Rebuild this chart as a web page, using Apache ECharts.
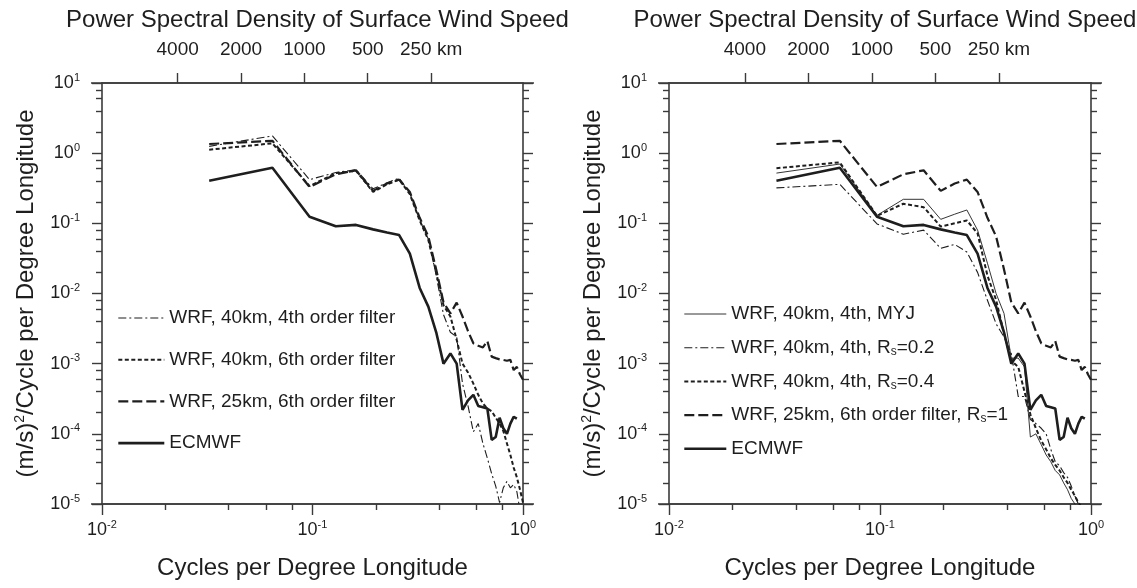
<!DOCTYPE html>
<html><head><meta charset="utf-8">
<script src="https://cdn.jsdelivr.net/npm/echarts@6/dist/echarts.min.js"></script>
<style>html,body{margin:0;padding:0;background:#fff}#c{width:1137px;height:588px}</style>
</head><body><div id="c"></div>
<script>
// ---------- data ----------
const freq = [0.0323,0.0645,0.0968,0.129,0.161,0.194,0.226,0.258,0.290,0.323,0.355,0.387,0.419,0.452,0.484,0.516,0.548,0.581,0.613,0.645,0.677,0.710,0.742,0.774,0.806,0.839,0.871,0.903,0.935,0.968,1.0];
const ecmwf = [0.405,0.62,0.124,0.091,0.095,0.082,0.074,0.068,0.037,0.012,0.0065,0.0028,0.001,0.0014,0.001,0.00022,0.0003,0.00036,0.00025,0.00024,0.00023,0.000082,0.00009,0.00017,0.00012,0.0001,0.00014,0.000175,0.000165];
const wrf25_6th = [1.35,1.5,0.33,0.5,0.57,0.29,0.37,0.42,0.28,0.12,0.065,0.022,0.0075,0.0052,0.0074,0.0047,0.0029,0.00195,0.0018,0.0017,0.0021,0.00126,0.0012,0.00115,0.00113,0.0011,0.00113,0.00081,0.0009,0.0007,0.00059];
const wrf40_4th = [1.25,1.76,0.42,0.53,0.58,0.31,0.38,0.44,0.27,0.11,0.06,0.018,0.005,0.0028,0.0024,0.00052,0.00025,0.000107,0.00014,0.000073,0.000045,0.000027,0.000018,0.0000105,0.000017,0.000021,0.000017,0.000019,0.000015,0.000008];
const wrf40_6th = [1.12,1.38,0.34,0.52,0.56,0.28,0.36,0.42,0.26,0.11,0.058,0.02,0.0068,0.0047,0.0022,0.001,0.00075,0.00052,0.00036,0.00027,0.00023,0.00021,0.00017,0.00014,0.00011,0.000073,0.00005,0.000033,0.000024,0.000016,0.0000105];
const wrfMYJ = [0.52,0.70,0.13,0.22,0.22,0.114,0.135,0.155,0.08,0.027,0.01,0.0052,0.0012,0.0012,0.0009,0.00009,0.0001,0.00007,0.00005,0.00004,0.00003,0.000026,0.00002,0.000016,0.000012,0.00001,0.0000085];
const wrfRs02 = [0.32,0.36,0.098,0.07,0.08,0.044,0.05,0.039,0.02,0.008,0.0037,0.0024,0.0014,0.00034,0.00034,0.00016,0.00014,0.00012,0.0001,0.00006,0.00004,0.000035,0.000028,0.000024,0.000018,0.000013,0.00001,0.0000085];
const wrfRs04 = [0.61,0.74,0.128,0.19,0.17,0.09,0.1,0.11,0.072,0.018,0.0081,0.0027,0.0011,0.0009,0.0004,0.00019,0.00012,0.00008,0.00006,0.000045,0.000036,0.00003,0.000024,0.00002,0.000016,0.000013,0.0000105,0.000009];

const kmTicks = [4000, 2000, 1000, 500, 250];
const kmPerDegree = 91.5;
const minorX = [0.02,0.04,0.06,0.08,0.2,0.4,0.6,0.8];
const minorY = [2e-5,4e-5,6e-5,8e-5,2e-4,4e-4,6e-4,8e-4,2e-3,4e-3,6e-3,8e-3,0.02,0.04,0.06,0.08,0.2,0.4,0.6,0.8,2,4,6,8];
const titleText = 'Power Spectral Density of Surface Wind Speed';

// ---------- styling ----------
const FONT = '"Liberation Sans", Arial, Helvetica, sans-serif';
const INK = '#1e1e1e';
const AX = '#3a3a3a';
const grids = [{left:102, top:83, width:421, height:421}, {left:669, top:83, width:422, height:421}];
const kmFreq = kmTicks.map(k => kmPerDegree / k);

const supRich = {
  b: {fontSize: 18, fontFamily: FONT, color: INK, lineHeight: 22},
  s: {fontSize: 11, fontFamily: FONT, color: INK, lineHeight: 11, verticalAlign: 'top'}
};
function supLabel(v) { const e = Math.round(Math.log10(v)); return '{b|10}{s|' + e + '}'; }
function kmLabel(v) {
  for (let i = 0; i < kmFreq.length; i++) {
    if (Math.abs(Math.log10(v) - Math.log10(kmFreq[i])) < 0.01) return kmTicks[i] + (i === kmTicks.length - 1 ? ' km' : '');
  }
  return '';
}
const tickLS = {color: AX, width: 1.4};
const lineLS = {color: AX, width: 1.6};

const xAxis = [], yAxis = [];
grids.forEach((g, p) => {
  xAxis.push({type:'log', logBase:10, gridIndex:p, min:0.01, max:1, position:'bottom',
    axisLine:{show:true, onZero:false, lineStyle:lineLS},
    axisTick:{show:true, inside:false, length:11, lineStyle:tickLS},
    axisLabel:{formatter:supLabel, rich:supRich, margin:15},
    splitLine:{show:false},
    name:'Cycles per Degree Longitude', nameLocation:'middle', nameGap:52,
    nameTextStyle:{fontSize:24, fontFamily:FONT, color:INK}});
  xAxis.push({type:'log', logBase:10, gridIndex:p, min:0.01, max:1, position:'bottom',
    axisLine:{show:false, onZero:false}, axisLabel:{show:false}, splitLine:{show:false},
    axisTick:{show:true, inside:false, length:6, customValues:minorX, lineStyle:tickLS}});
  xAxis.push({type:'log', logBase:10, gridIndex:p, min:0.01, max:1, position:'top',
    axisLine:{show:true, onZero:false, lineStyle:lineLS}, splitLine:{show:false},
    axisTick:{show:true, inside:false, length:10, customValues:kmFreq, lineStyle:tickLS}, 
    axisLabel:{customValues:kmFreq, formatter:kmLabel, fontSize:19, fontFamily:FONT, color:INK, margin:24}});

  yAxis.push({type:'log', logBase:10, gridIndex:p, min:1e-5, max:10, position:'left',
    axisLine:{show:true, onZero:false, lineStyle:lineLS},
    axisTick:{show:true, inside:false, length:10, lineStyle:tickLS},
    axisLabel:{formatter:supLabel, rich:supRich, margin:22},
    splitLine:{show:false},
    name:'{n|(m/s)}{s|2}{n|/Cycle per Degree Longitude}', nameLocation:'middle', nameGap:62, nameRotate:90,
    nameTextStyle:{rich:{n:{fontSize:24, fontFamily:FONT, color:INK, lineHeight:27}, s:{fontSize:14, fontFamily:FONT, color:INK, lineHeight:14, verticalAlign:'top'}}}});
  yAxis.push({type:'log', logBase:10, gridIndex:p, min:1e-5, max:10, position:'left',
    axisLine:{show:false, onZero:false}, axisLabel:{show:false}, splitLine:{show:false},
    axisTick:{show:true, inside:false, length:6, customValues:minorY, lineStyle:tickLS}});
  yAxis.push({type:'log', logBase:10, gridIndex:p, min:1e-5, max:10, position:'right',
    axisLine:{show:true, onZero:false, lineStyle:lineLS}, axisLabel:{show:false}, splitLine:{show:false},
    axisTick:{show:true, inside:false, length:10, lineStyle:tickLS}});
  yAxis.push({type:'log', logBase:10, gridIndex:p, min:1e-5, max:10, position:'right',
    axisLine:{show:false, onZero:false}, axisLabel:{show:false}, splitLine:{show:false},
    axisTick:{show:true, inside:false, length:6, customValues:minorY, lineStyle:tickLS}});
});

const styles = {
  dashdot: {type:[8,3,2,3], width:1.1, color:INK},
  dotted: {type:[4,2.5], width:2, color:INK},
  dashed: {type:[10,4], width:2.2, color:INK},
  thick: {type:'solid', width:2.6, color:INK},
  thin: {type:'solid', width:0.9, color:INK}
};
function mk(name, vals, panel, st) {
  return {type:'line', name, xAxisIndex: panel*3, yAxisIndex: panel*4, symbol:'none', silent:true,
    animation:false, clip:true, lineStyle: styles[st], itemStyle:{color:INK},
    data: vals.map((v, i) => [freq[i], v])};
}
const left = [
  ['WRF, 40km, 4th order filter', wrf40_4th, 'dashdot'],
  ['WRF, 40km, 6th order filter', wrf40_6th, 'dotted'],
  ['WRF, 25km, 6th order filter', wrf25_6th, 'dashed'],
  ['ECMWF', ecmwf, 'thick']
];
const right = [
  ['WRF, 40km, 4th, MYJ', wrfMYJ, 'thin'],
  ['WRF, 40km, 4th, Rs=0.2', wrfRs02, 'dashdot'],
  ['WRF, 40km, 4th, Rs=0.4', wrfRs04, 'dotted'],
  ['WRF, 25km, 6th order filter, Rs=1', wrf25_6th, 'dashed'],
  ['ECMWF', ecmwf, 'thick']
];
const series = left.map(s => mk(s[0], s[1], 0, s[2])).concat(right.map(s => mk(s[0], s[1], 1, s[2])));

const legendText = {fontSize:19, fontFamily:FONT, color:INK, lineHeight:20,
  rich:{sub:{fontSize:12, fontFamily:FONT, color:INK, lineHeight:14, verticalAlign:'bottom'}}};
const hiddenSym = {color:'rgba(0,0,0,0)', opacity:0, borderWidth:0};
const legend = [
  {left:117, top:308, padding:0, orient:'vertical', itemWidth:46, itemHeight:14, itemGap:21.7, selectedMode:false,
   textStyle:legendText, data:left.map(s => ({name:s[0], lineStyle:styles[s[2]], itemStyle:hiddenSym}))},
  {left:683, top:304, padding:0, orient:'vertical', itemWidth:42, itemHeight:14, itemGap:13.7, selectedMode:false,
   textStyle:legendText, formatter: n => n.replace('Rs=', 'R{sub|s}='),
   data:right.map(s => ({name:s[0], lineStyle:styles[s[2]], itemStyle:hiddenSym}))}
];

const title = grids.map(g => ({text:titleText, left:g.left + g.width/2, top:3, textAlign:'center',
  textStyle:{fontSize:24, fontWeight:'normal', fontFamily:FONT, color:INK}}));

const graphic = [];
grids.forEach(g => {
  [g.top, g.top + g.height].forEach(y => {
    graphic.push({type:'line', silent:true, shape:{x1:g.left - 11, y1:y, x2:g.left + g.width + 11, y2:y},
      style:{stroke:AX, lineWidth:1.6}});
  });
});

const chart = echarts.init(document.getElementById('c'), null, {renderer:'canvas'});
chart.setOption({backgroundColor:'#fff', animation:false, title, legend, grid:grids, xAxis, yAxis, series, graphic});
</script></body></html>
